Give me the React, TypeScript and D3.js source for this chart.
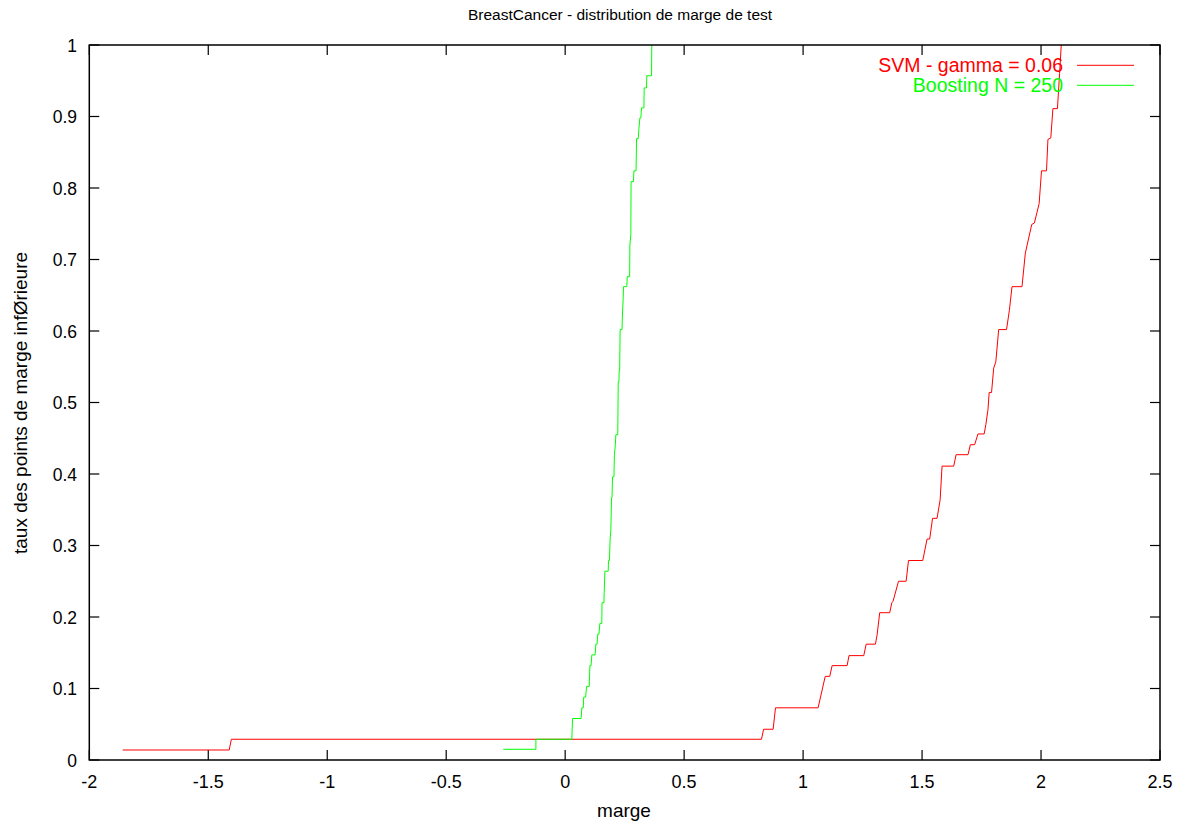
import React from "react";
import * as d3 from "d3";

const title = "BreastCancer - distribution de marge de test";
const xLabel = "marge";
const yLabel = "taux des points de marge infØrieure";

const xTicks = [-2, -1.5, -1, -0.5, 0, 0.5, 1, 1.5, 2, 2.5];
const yTicks = [0, 0.1, 0.2, 0.3, 0.4, 0.5, 0.6, 0.7, 0.8, 0.9, 1];

const svmName = "SVM - gamma = 0.06";
const boostName = "Boosting N = 250";

// SVM - gamma = 0.06 : [marge, taux]
const svmMarge = [-1.86, -1.412, -1.403, 0.825, 0.834, 0.874, 0.884, 1.063, 1.093, 1.112, 1.122, 1.185, 1.193, 1.255, 1.265, 1.304, 1.311, 1.322, 1.364, 1.373, 1.378, 1.401, 1.433, 1.443, 1.503, 1.521, 1.532, 1.544, 1.563, 1.576, 1.584, 1.633, 1.643, 1.693, 1.703, 1.721, 1.735, 1.761, 1.768, 1.777, 1.782, 1.792, 1.801, 1.81, 1.822, 1.855, 1.867, 1.878, 1.92, 1.934, 1.961, 1.972, 1.992, 2.002, 2.023, 2.029, 2.041, 2.05, 2.069, 2.078, 2.085];
const svmTaux = [0.014, 0.014, 0.029, 0.029, 0.043, 0.043, 0.073, 0.073, 0.117, 0.117, 0.132, 0.132, 0.146, 0.146, 0.162, 0.162, 0.175, 0.206, 0.206, 0.22, 0.222, 0.25, 0.25, 0.279, 0.279, 0.309, 0.309, 0.338, 0.338, 0.364, 0.411, 0.411, 0.427, 0.427, 0.441, 0.441, 0.456, 0.456, 0.469, 0.49, 0.514, 0.514, 0.548, 0.557, 0.602, 0.602, 0.629, 0.662, 0.662, 0.709, 0.749, 0.751, 0.778, 0.824, 0.824, 0.868, 0.87, 0.911, 0.911, 0.96, 1.0];

// Boosting N = 250 : [marge, taux]
const boostMarge = [-0.26, -0.123, -0.123, 0.028, 0.031, 0.067, 0.07, 0.076, 0.078, 0.086, 0.09, 0.101, 0.104, 0.109, 0.112, 0.126, 0.129, 0.134, 0.137, 0.142, 0.146, 0.154, 0.155, 0.163, 0.164, 0.167, 0.181, 0.182, 0.186, 0.189, 0.192, 0.195, 0.197, 0.199, 0.205, 0.207, 0.211, 0.213, 0.221, 0.223, 0.226, 0.227, 0.229, 0.231, 0.239, 0.24, 0.244, 0.245, 0.259, 0.261, 0.271, 0.272, 0.276, 0.277, 0.287, 0.289, 0.298, 0.3, 0.307, 0.31, 0.314, 0.318, 0.321, 0.331, 0.332, 0.342, 0.343, 0.363, 0.364];
const boostTaux = [0.015, 0.015, 0.029, 0.029, 0.058, 0.058, 0.073, 0.073, 0.088, 0.088, 0.103, 0.103, 0.132, 0.132, 0.147, 0.147, 0.162, 0.162, 0.176, 0.176, 0.191, 0.191, 0.22, 0.22, 0.234, 0.264, 0.264, 0.279, 0.279, 0.309, 0.322, 0.367, 0.367, 0.396, 0.396, 0.427, 0.441, 0.455, 0.455, 0.529, 0.529, 0.544, 0.544, 0.602, 0.602, 0.617, 0.647, 0.662, 0.662, 0.676, 0.676, 0.72, 0.735, 0.809, 0.809, 0.824, 0.824, 0.869, 0.869, 0.883, 0.898, 0.898, 0.912, 0.912, 0.94, 0.94, 0.957, 0.957, 1.0];

const W = 1177;
const H = 823;
const left = 89.3;
const right = 1160;
const top = 45;
const bottom = 760;
const FONT = "'Liberation Sans', Arial, Helvetica, sans-serif";

export default function App() {
  const x = d3.scaleLinear().domain([-2, 2.5]).range([left, right]);
  const y = d3.scaleLinear().domain([0, 1]).range([bottom, top]);
  const line = d3
    .line<[number, number]>()
    .x((d) => x(d[0]))
    .y((d) => y(d[1]));
  const svmPts: [number, number][] = svmMarge.map((m, i) => [m, svmTaux[i]]);
  const boostPts: [number, number][] = boostMarge.map((m, i) => [m, boostTaux[i]]);
  const tl = 10;

  return (
    <svg
      width={W}
      height={H}
      style={{ position: "absolute", left: 0, top: 0, background: "#fff" }}
      fontFamily={FONT}
    >
      <rect x={0} y={0} width={W} height={H} fill="#fff" />
      {/* ticks */}
      {xTicks.map((t) => (
        <g key={"x" + t}>
          <line x1={x(t)} x2={x(t)} y1={bottom} y2={bottom - tl} stroke="#000" strokeWidth={1.2} />
          <line x1={x(t)} x2={x(t)} y1={top} y2={top + tl} stroke="#000" strokeWidth={1.2} />
          <text x={x(t)} y={788} textAnchor="middle" fontSize={18} fill="#000">
            {String(t)}
          </text>
        </g>
      ))}
      {yTicks.map((t) => (
        <g key={"y" + t}>
          <line x1={left} x2={left + tl} y1={y(t)} y2={y(t)} stroke="#000" strokeWidth={1.2} />
          <line x1={right} x2={right - tl} y1={y(t)} y2={y(t)} stroke="#000" strokeWidth={1.2} />
          <text x={77} y={y(t) + 6.5} textAnchor="end" fontSize={17.5} fill="#000">
            {String(t)}
          </text>
        </g>
      ))}
      {/* curves */}
      <path d={line(svmPts) || ""} fill="none" stroke="#ff0000" strokeWidth={1} />
      <path d={line(boostPts) || ""} fill="none" stroke="#00ff00" strokeWidth={1} />
      {/* frame */}
      <rect x={left} y={top} width={right - left} height={bottom - top} fill="none" stroke="#000" strokeWidth={1.5} />
      {/* legend */}
      <text x={1063} y={72} textAnchor="end" fontSize={19.5} fill="#ff0000">{svmName}</text>
      <line x1={1077} x2={1134} y1={65.3} y2={65.3} stroke="#ff0000" strokeWidth={1} />
      <text x={1063} y={92} textAnchor="end" fontSize={19.5} fill="#00ff00">{boostName}</text>
      <line x1={1077} x2={1134} y1={85.3} y2={85.3} stroke="#00ff00" strokeWidth={1} />
      {/* titles */}
      <text x={620} y={19.5} textAnchor="middle" fontSize={15.5} fill="#000">{title}</text>
      <text x={624} y={817} textAnchor="middle" fontSize={19} fill="#000">{xLabel}</text>
      <text
        transform={`translate(27, 403) rotate(-90)`}
        textAnchor="middle"
        fontSize={19}
        fill="#000"
      >
        {yLabel}
      </text>
    </svg>
  );
}
